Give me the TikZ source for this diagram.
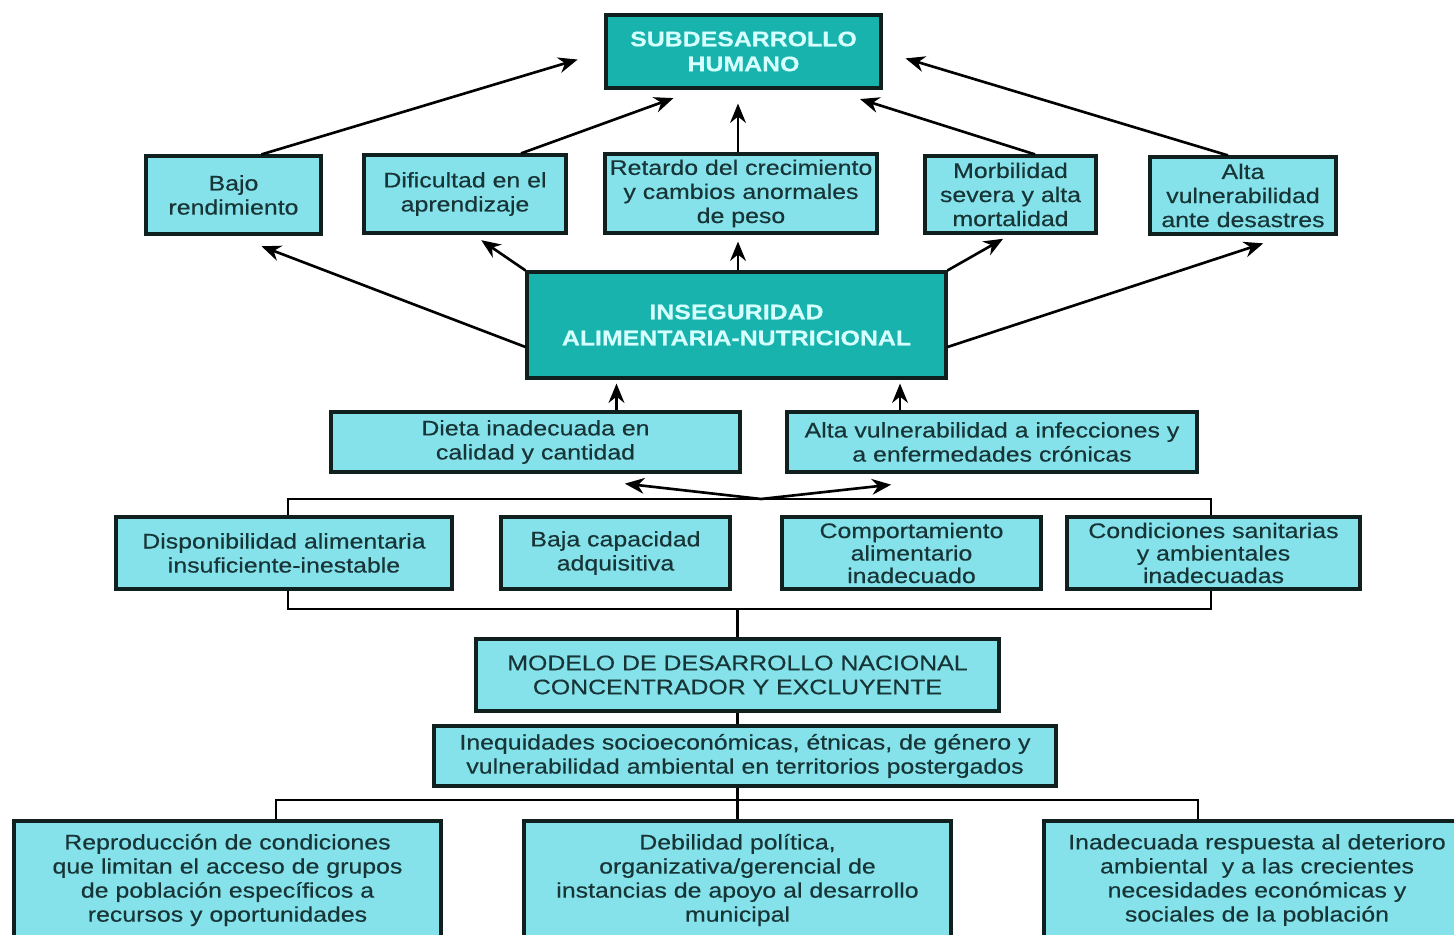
\documentclass[tikz,border=0pt]{standalone}
\usepackage{fontspec}
\setmainfont{Liberation Sans}[FakeStretch=1.18,FakeBold=0.4]
\usetikzlibrary{arrows.meta}
\definecolor{darkteal}{HTML}{17B3AC}
\definecolor{lightcyan}{HTML}{86E2EA}
\definecolor{boxline}{HTML}{10201F}
\definecolor{txtdark}{HTML}{173537}
\definecolor{txtlight}{HTML}{D6FFFF}
\newcommand{\boxfont}{\fontsize{12}{13.7}\selectfont}
\tikzset{
  box/.style={draw=boxline,line width=1.8pt,fill=lightcyan,text=txtdark,align=center,inner sep=0pt},
  keybox/.style={box,fill=darkteal,text=txtlight,font=\boxfont\bfseries},
  tight/.style={font=\fontsize{12}{12.8}\selectfont}
}
\begin{document}
\begin{tikzpicture}[x=0.02cm,y=-0.02cm,>={Stealth[length=11pt,width=9pt]},line width=1.5pt,font=\boxfont]
 \useasboundingbox (0,0) rectangle (1454,935);
 \clip (0,0) rectangle (1454,935);
 % top
 \node[keybox,minimum width=5.5cm,minimum height=1.46cm,font=\fontsize{12}{14.2}\selectfont\bfseries] (sub) at (743.5,51.5) {SUBDESARROLLO\\HUMANO};
 % consequences
 \node[box,minimum width=3.5cm,minimum height=1.56cm] (bajo) at (233.5,195) {Bajo\\rendimiento};
 \node[box,minimum width=4.04cm,minimum height=1.56cm] (dific) at (465,194) {Dificultad en el\\aprendizaje};
 \node[box,minimum width=5.44cm,minimum height=1.58cm] (retardo) at (741,193.5) {Retardo del crecimiento\\y cambios anormales\\de peso};
 \node[box,minimum width=3.42cm,minimum height=1.54cm] (morb) at (1010.5,194.5) {Morbilidad\\severa y alta\\mortalidad};
 \node[box,minimum width=3.72cm,minimum height=1.54cm] (altav) at (1243,195.5) {Alta\\vulnerabilidad\\ante desastres};
 % core
 \node[keybox,minimum width=8.38cm,minimum height=2.12cm,font=\fontsize{12}{14.8}\selectfont\bfseries] (inseg) at (736.5,325) {INSEGURIDAD\\ALIMENTARIA-NUTRICIONAL};
 \node[box,minimum width=8.18cm,minimum height=1.2cm] (dieta) at (535.5,442) {Dieta inadecuada en\\calidad y cantidad};
 \node[box,minimum width=8.2cm,minimum height=1.2cm] (infec) at (992,442) {Alta vulnerabilidad a infecciones y\\a enfermedades cr\'onicas};
 % causes
 \node[box,minimum width=6.72cm,minimum height=1.44cm] (dispo) at (284,553) {Disponibilidad alimentaria\\insuficiente-inestable};
 \node[box,minimum width=4.58cm,minimum height=1.44cm] (bajacap) at (615.5,553) {Baja capacidad\\adquisitiva};
 \node[box,tight,minimum width=5.18cm,minimum height=1.44cm] (comport) at (911.5,553) {Comportamiento\\alimentario\\inadecuado};
 \node[box,tight,minimum width=5.86cm,minimum height=1.44cm] (condic) at (1213.5,553) {Condiciones sanitarias\\y ambientales\\inadecuadas};
 % roots
 \node[box,minimum width=10.46cm,minimum height=1.44cm] (modelo) at (737.5,675) {MODELO DE DESARROLLO NACIONAL\\CONCENTRADOR Y EXCLUYENTE};
 \node[box,minimum width=12.44cm,minimum height=1.2cm] (inequ) at (745,756) {Inequidades socioecon\'omicas, \'etnicas, de g\'enero y\\vulnerabilidad ambiental en territorios postergados};
 \node[box,minimum width=8.54cm,minimum height=2.36cm] (reprod) at (227.5,880) {Reproducci\'on de condiciones\\que limitan el acceso de grupos\\de poblaci\'on espec\'ificos a\\recursos y oportunidades};
 \node[box,minimum width=8.54cm,minimum height=2.36cm] (debil) at (737.5,880) {Debilidad pol\'itica,\\organizativa/gerencial de\\instancias de apoyo al desarrollo\\municipal};
 \node[box,minimum width=8.52cm,minimum height=2.36cm] (inadec) at (1257,880) {Inadecuada respuesta al deterioro\\ambiental\ \ y a las crecientes\\necesidades econ\'omicas y\\sociales de la poblaci\'on};
 % arrows to the top box
 \draw[->,shorten >=0.56cm] ([xshift=0.56cm]bajo.north) -- (sub.west);
 \draw[->,shorten >=0.5cm] ([xshift=1.12cm]dific.north) -- ([xshift=-0.93cm]sub.south);
 \draw[->,shorten >=0.28cm] ([xshift=-0.06cm]retardo.north) -- ([xshift=-0.06cm]retardo.north |- sub.south);
 \draw[->,shorten >=0.63cm] ([xshift=0.49cm]morb.north) -- ([xshift=1.73cm]sub.south);
 \draw[->,shorten >=0.48cm] ([xshift=-0.3cm]altav.north) -- (sub.east);
 % arrows from the core
 \draw[->,shorten >=0.6cm] ([yshift=-0.44cm]inseg.west) -- (bajo.south);
 \draw[->,shorten >=0.2cm] (inseg.north west) -- ([xshift=0.16cm]dific.south);
 \draw[->,shorten >=0.14cm] ([xshift=0.03cm]inseg.north) -- ([xshift=0.03cm]inseg.north |- retardo.south);
 \draw[->,shorten >=0.17cm] (inseg.north east) -- (morb.south);
 \draw[->,shorten >=0.5cm] ([yshift=-0.44cm]inseg.east) -- ([xshift=0.88cm]altav.south);
 \draw[->,shorten >=0.08cm] ([xshift=1.62cm]dieta.north) -- ([xshift=1.62cm]dieta.north |- inseg.south);
 \draw[->,shorten >=0.08cm] ([xshift=-1.84cm]infec.north) -- ([xshift=-1.84cm]infec.north |- inseg.south);
 % brackets
 \coordinate (fork) at (761,499);
 \coordinate (brTL) at (288,499); \coordinate (brTR) at (1211,499);
 \coordinate (brBL) at (288,609); \coordinate (brBR) at (1211,609);
 \coordinate (brL) at (276,800); \coordinate (brR) at (1198,800);
 \draw (brTL |- dispo.north) -- (brTL) -- (brTR) -- (brTR |- condic.north);
 \draw[->,shorten >=1.8cm] (fork) -- (dieta.south);
 \draw[->,shorten >=2.03cm] (fork) -- (infec.south);
 \draw (brBL |- dispo.south) -- (brBL) -- (brBR) -- (brBR |- condic.south);
 \draw (modelo.north) -- (modelo.north |- brBL);
 \draw (modelo.south) -- (modelo.south |- inequ.north);
 \draw (brL |- reprod.north) -- (brL) -- (brR) -- (brR |- inadec.north);
 \draw (debil.north) -- (debil.north |- inequ.south);
\end{tikzpicture}
\end{document}
